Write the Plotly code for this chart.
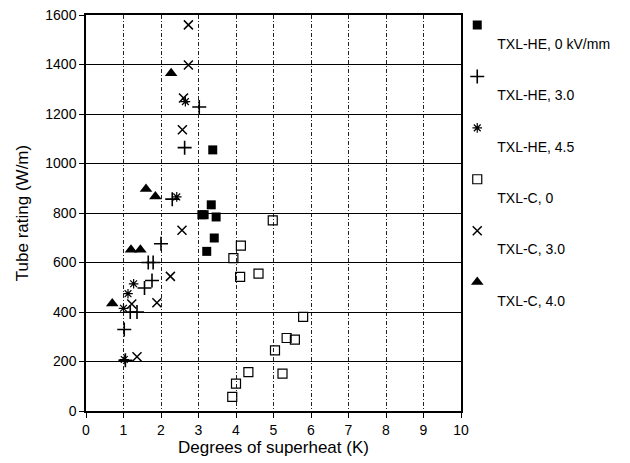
import plotly.graph_objects as go

# TXL-HE, 0 kV/mm (filled squares)
he0_x = [3.38, 3.34, 3.09, 3.15, 3.47, 3.42, 3.22]
he0_y = [1055, 833, 793, 793, 784, 699, 645]
# TXL-HE, 3.0 (plus)
he3_x = [3.02, 2.63, 2.30, 2.00, 1.66, 1.79, 1.76, 1.56, 1.18, 1.36, 1.02, 1.05]
he3_y = [1228, 1064, 856, 676, 600, 600, 527, 497, 400, 400, 329, 205]
# TXL-HE, 4.5 (asterisk)
he45_x = [2.65, 2.42, 1.27, 1.12, 1.00, 1.02]
he45_y = [1250, 865, 514, 474, 415, 208]
# TXL-C, 0 (open squares)
c0_x = [3.90, 4.00, 4.33, 5.24, 5.04, 5.35, 5.57, 5.79, 4.11, 4.60, 3.93, 4.13, 4.98]
c0_y = [57, 111, 157, 151, 245, 295, 288, 380, 542, 555, 618, 668, 770]
# TXL-C, 3.0 (x)
c3_x = [2.73, 2.73, 2.60, 2.57, 2.56, 2.25, 1.89, 1.22, 1.36]
c3_y = [1560, 1398, 1265, 1136, 730, 544, 437, 432, 219]
# TXL-C, 4.0 (triangles)
c4_x = [2.27, 1.60, 1.85, 1.20, 1.45, 0.70]
c4_y = [1365, 897, 867, 652, 652, 434]

names = ["TXL-HE, 0 kV/mm", "TXL-HE, 3.0", "TXL-HE, 4.5", "TXL-C, 0", "TXL-C, 3.0", "TXL-C, 4.0"]
xs = [he0_x, he3_x, he45_x, c0_x, c3_x, c4_x]
ys = [he0_y, he3_y, he45_y, c0_y, c3_y, c4_y]
symbols = ["square", "cross-thin-open", "asterisk-open", "square-open", "x-thin-open", "triangle-up"]
sizes = [9, 10, 8, 9, 9, 11]
widths = [0, 1.6, 1.2, 1.2, 1.5, 0]

fig = go.Figure()
for i in range(6):
    fig.add_trace(go.Scatter(
        x=xs[i], y=ys[i], mode="markers", name="&nbsp;<br>" + names[i],
        legendgroup=str(i),
        marker=dict(symbol=symbols[i], size=sizes[i], color="black",
                    line=dict(color="black", width=widths[i])),
    ))

font = "Liberation Sans, Arial, sans-serif"
fig.update_layout(
    width=630, height=463,
    margin=dict(l=86, r=169, t=15, b=52, autoexpand=False),
    paper_bgcolor="white", plot_bgcolor="white",
    font=dict(family=font, size=14, color="black"),
    showlegend=True,
    legend=dict(x=0.99, y=1.014, xanchor="left", yanchor="top",
                valign="top", tracegroupgap=12, itemwidth=30,
                maxheight=460,
                font=dict(family=font, size=14, color="black"),
                bgcolor="rgba(0,0,0,0)"),
    xaxis=dict(range=[0, 10], dtick=1, tick0=0, showgrid=True,
               gridcolor="#222", gridwidth=1, griddash="4px,2px,1px,2px",
               showline=True, linecolor="black", linewidth=1.5, mirror=True,
               ticks="outside", ticklen=5, tickcolor="black", zeroline=False,
               tickfont=dict(size=14, color="black"),
               title=dict(text="Degrees of superheat (K)", standoff=4,
                          font=dict(size=17, color="black"))),
    yaxis=dict(range=[0, 1600], dtick=200, tick0=0, showgrid=True,
               gridcolor="black", gridwidth=1.3,
               showline=True, linecolor="black", linewidth=1.5, mirror=True,
               ticks="outside", ticklen=5, tickcolor="black", zeroline=False,
               tickfont=dict(size=14, color="black"),
               title=dict(text="Tube rating (W/m)", standoff=12,
                          font=dict(size=17, color="black"))),
)

fig.write_html("out.html")
